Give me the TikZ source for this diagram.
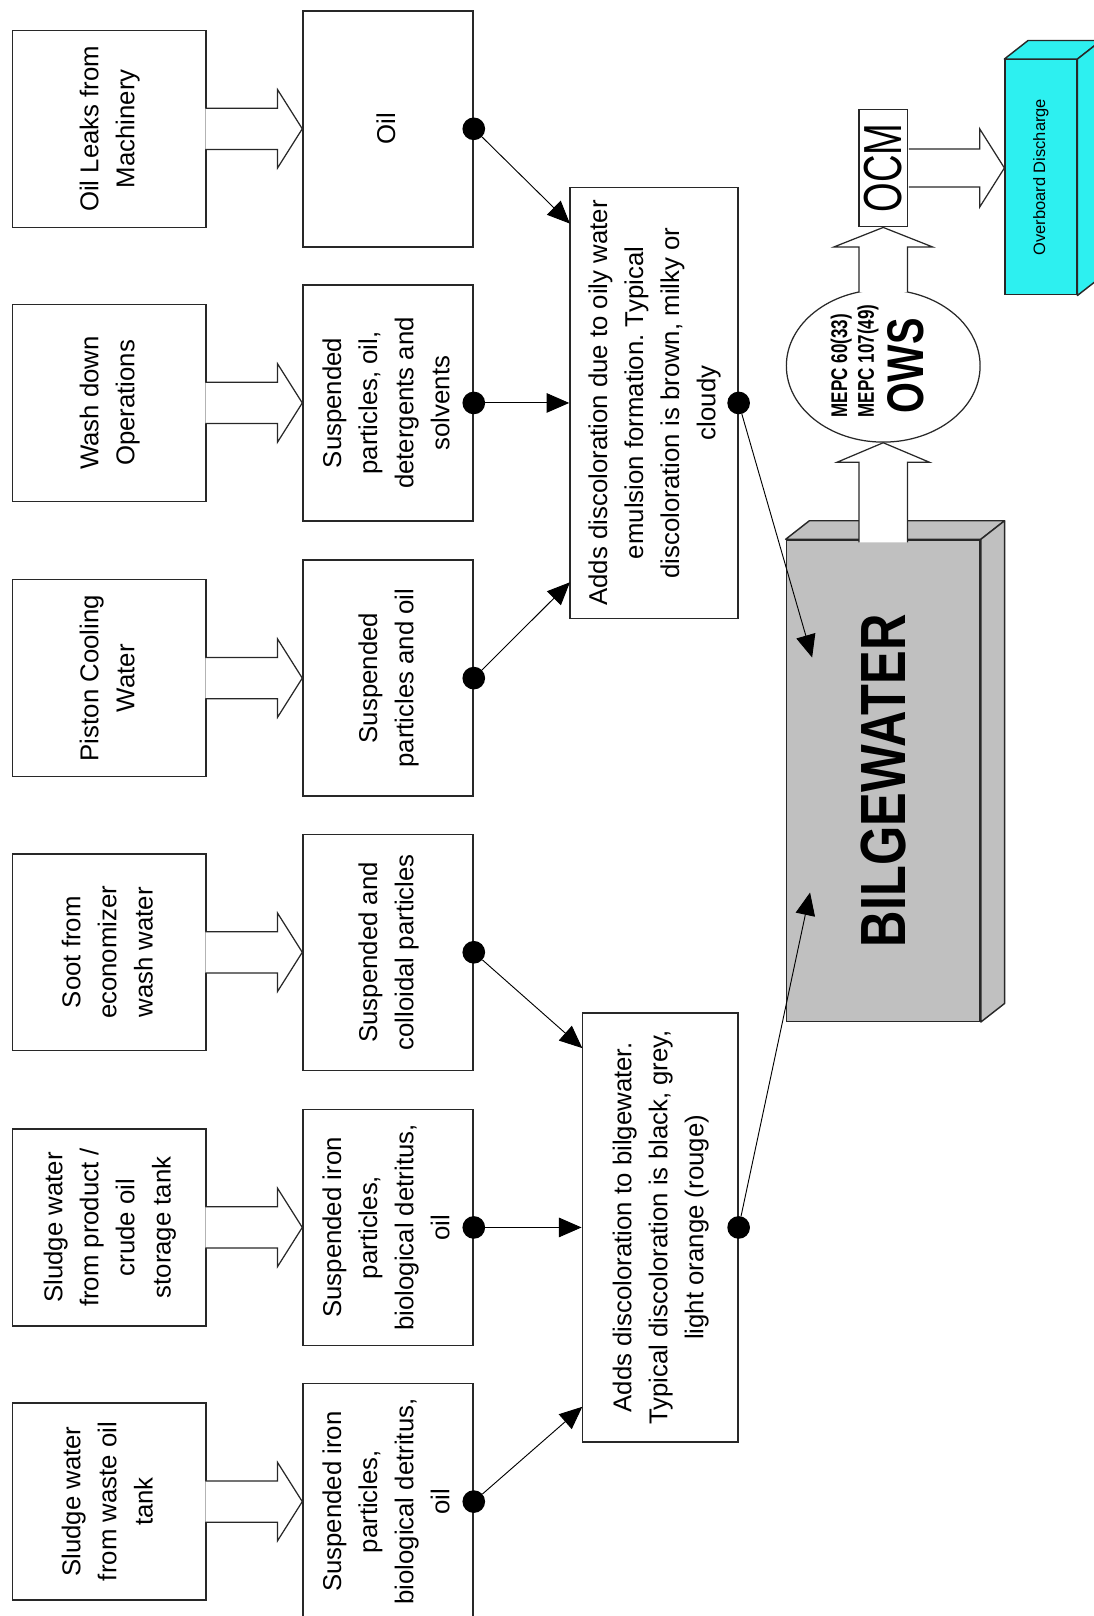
\documentclass[tikz,border=0pt]{standalone}
\usepackage{fontspec}
\setmainfont{Liberation Sans}
\usepackage{graphicx}
\usetikzlibrary{arrows.meta,shapes.geometric,calc}
\frenchspacing

\newcommand{\vlabel}[1]{\rotatebox{90}{\begin{tabular}{@{}c@{}}#1\end{tabular}}}

\begin{document}
\begin{tikzpicture}[x=1pt,y=1pt,
  srcBox/.style={draw=lineColor,fill=white,line width=1.4pt,inner sep=0pt,minimum width=188pt,minimum height=191pt,font=\fontsize{25}{35}\selectfont},
  partBox/.style={draw=lineColor,fill=white,line width=1.4pt,inner sep=0pt,minimum width=165pt,minimum height=229pt,font=\fontsize{25}{35}\selectfont},
  midBox/.style={draw=lineColor,fill=white,line width=1.4pt,inner sep=0pt,font=\fontsize{25}{35}\selectfont},
  dot/.style={circle,fill=black,inner sep=0pt,minimum size=22pt},
  link/.style={draw=black,line width=0.9pt,line join=round,-{Triangle[length=22pt,width=19pt]}},
  blockArrow/.style={draw=lineColor,fill=white,line width=1.2pt,line join=miter},
  faceStyle/.style={draw=lineColor,line width=1.4pt,line join=round},
  owsText/.style={inner sep=0pt,font=\fontsize{22}{26}\selectfont\bfseries}]
\definecolor{lineColor}{RGB}{40,40,40}
\definecolor{bilgeColor}{RGB}{192,192,192}
\definecolor{overboardColor}{RGB}{45,240,240}
\path[use as bounding box,fill=white] (0,0) rectangle (1061,1568);

\node[srcBox] (src1) at (106,1443) {\vlabel{Oil Leaks from\\Machinery}};
\node[srcBox] (src2) at (106,1177) {\vlabel{Wash down\\Operations}};
\node[srcBox] (src3) at (106,910) {\vlabel{Piston Cooling\\Water}};
\node[srcBox] (src4) at (106,644) {\vlabel{Soot from\\economizer\\wash water}};
\node[srcBox] (src5) at (106,377) {\vlabel{Sludge water\\from product /\\crude oil\\storage tank}};
\node[srcBox] (src6) at (106,111) {\vlabel{Sludge water\\from waste oil\\tank}};

\node[partBox] (part1) at (376.5,1443) {\vlabel{Oil}};
\node[partBox] (part2) at (376.5,1177) {\vlabel{Suspended\\particles, oil,\\detergents and\\solvents}};
\node[partBox] (part3) at (376.5,910) {\vlabel{Suspended\\particles and oil}};
\node[partBox] (part4) at (376.5,644) {\vlabel{Suspended and\\colloidal particles}};
\node[partBox] (part5) at (376.5,377) {\vlabel{Suspended iron\\particles,\\biological detritus,\\oil}};
\node[partBox] (part6) at (376.5,111) {\vlabel{Suspended iron\\particles,\\biological detritus,\\oil}};

\path[blockArrow] ($(src1.east)+(-1.5,20)$) -- ($(part1.west)+(-24,20)$) -- ($(part1.west)+(-24,38)$) -- (part1.west) -- ($(part1.west)+(-24,-38)$) -- ($(part1.west)+(-24,-20)$) -- ($(src1.east)+(-1.5,-20)$);
\path[blockArrow] ($(src2.east)+(-1.5,20)$) -- ($(part2.west)+(-24,20)$) -- ($(part2.west)+(-24,38)$) -- (part2.west) -- ($(part2.west)+(-24,-38)$) -- ($(part2.west)+(-24,-20)$) -- ($(src2.east)+(-1.5,-20)$);
\path[blockArrow] ($(src3.east)+(-1.5,20)$) -- ($(part3.west)+(-24,20)$) -- ($(part3.west)+(-24,38)$) -- (part3.west) -- ($(part3.west)+(-24,-38)$) -- ($(part3.west)+(-24,-20)$) -- ($(src3.east)+(-1.5,-20)$);
\path[blockArrow] ($(src4.east)+(-1.5,20)$) -- ($(part4.west)+(-24,20)$) -- ($(part4.west)+(-24,38)$) -- (part4.west) -- ($(part4.west)+(-24,-38)$) -- ($(part4.west)+(-24,-20)$) -- ($(src4.east)+(-1.5,-20)$);
\path[blockArrow] ($(src5.east)+(-1.5,20)$) -- ($(part5.west)+(-24,20)$) -- ($(part5.west)+(-24,38)$) -- (part5.west) -- ($(part5.west)+(-24,-38)$) -- ($(part5.west)+(-24,-20)$) -- ($(src5.east)+(-1.5,-20)$);
\path[blockArrow] ($(src6.east)+(-1.5,20)$) -- ($(part6.west)+(-24,20)$) -- ($(part6.west)+(-24,38)$) -- (part6.west) -- ($(part6.west)+(-24,-38)$) -- ($(part6.west)+(-24,-20)$) -- ($(src6.east)+(-1.5,-20)$);

\node[midBox,minimum width=163pt,minimum height=418pt] (mix1) at (634.5,1177) {\vlabel{Adds discoloration due to oily water\\emulsion formation. Typical\\discoloration is brown, milky or\\cloudy}};
\node[midBox,minimum width=151pt,minimum height=416pt] (mix2) at (640.5,377) {\vlabel{Adds discoloration to bilgewater.\\Typical discoloration is black, grey,\\light orange (rouge)}};

\node[dot] (dot1) at (part1.east) {};
\node[dot] (dot2) at (part2.east) {};
\node[dot] (dot3) at (part3.east) {};
\node[dot] (dot4) at (part4.east) {};
\node[dot] (dot5) at (part5.east) {};
\node[dot] (dot6) at (part6.east) {};
\node[dot] (dot7) at (mix1.east) {};
\node[dot] (dot8) at (mix2.east) {};

\node[draw=lineColor,fill=bilgeColor,line width=1.4pt,inner sep=0pt,minimum width=188pt,minimum height=467pt] (bilge) at (857,810.5) {\rotatebox{90}{\scalebox{0.79}[1]{\fontsize{62}{70}\selectfont\bfseries BILGEWATER}}};
\path[faceStyle,fill=bilgeColor] (bilge.north west) -- ++(23,18) -- ($(bilge.north east)+(23,18)$) -- (bilge.north east) -- cycle;
\path[faceStyle,fill=bilgeColor] (bilge.north east) -- ++(23,18) -- ($(bilge.south east)+(23,18)$) -- (bilge.south east) -- cycle;

\node[draw=lineColor,line width=1.2pt,ellipse,inner sep=0pt,minimum width=188pt,minimum height=148pt] (ows) at (857,1213) {};
\node[draw=lineColor,fill=white,line width=1.4pt,inner sep=0pt,minimum width=47pt,minimum height=114pt] (ocm) at (857,1405) {\rotatebox{90}{\scalebox{0.71}[1]{\fontsize{52}{60}\selectfont OCM}}};

\node[draw=lineColor,fill=overboardColor,line width=1.4pt,inner sep=0pt,minimum width=69.5pt,minimum height=228pt] (overboard) at (1010,1396) {\rotatebox{90}{\fontsize{16}{19}\selectfont Overboard Discharge}};
\path[faceStyle,fill=overboardColor] (overboard.north west) -- ++(23,18) -- ($(overboard.north east)+(23,18)$) -- (overboard.north east) -- cycle;
\path[faceStyle,fill=overboardColor] (overboard.north east) -- ++(23,18) -- ($(overboard.south east)+(23,18)$) -- (overboard.south east) -- cycle;

\path[blockArrow] ($(bilge.north)+(-23.5,-3)$) -- ($(ows.south)+(-23.5,-19)$) -- ($(ows.south)+(-45,-19)$) -- (ows.south) -- ($(ows.south)+(45,-19)$) -- ($(ows.south)+(23.5,-19)$) -- ($(bilge.north)+(23.5,-3)$);
\path[blockArrow] ($(ows.north)+(-23.5,-3)$) -- ($(ocm.south)+(-23.5,-19)$) -- ($(ocm.south)+(-48,-19)$) -- (ocm.south) -- ($(ocm.south)+(48,-19)$) -- ($(ocm.south)+(23.5,-19)$) -- ($(ows.north)+(23.5,-3)$);
\coordinate (obTip) at (overboard.west |- ocm.east);
\path[blockArrow] ($(ocm.east)+(0.7,18.5)$) -- ($(obTip)+(-24,18.5)$) -- ($(obTip)+(-24,38)$) -- (obTip) -- ($(obTip)+(-24,-38)$) -- ($(obTip)+(-24,-18.5)$) -- ($(ocm.east)+(0.7,-18.5)$);

\node[owsText,anchor=base west,rotate=90] (mepcA) at (822,1163) {\scalebox{0.75}[1]{MEPC 60(33)}};
\node[owsText,anchor=base west,rotate=90] (mepcB) at (848,1163) {\scalebox{0.75}[1]{MEPC 107(49)}};
\node[owsText,anchor=base,rotate=90,font=\fontsize{50}{56}\selectfont\bfseries] (owsLabel) at (896,1213) {\scalebox{0.77}[1]{OWS}};

\coordinate (mix1a) at (553,1351);
\coordinate (mix1c) at (553,1003);
\coordinate (mix2a) at (565,551);
\coordinate (mix2c) at (565,203);
\coordinate (bilgeA) at (788,930);
\coordinate (bilgeB) at (786,702);

\draw[link] (dot1) -- (mix1a);
\draw[link] (dot2) -- (mix1.west);
\draw[link] (dot3) -- (mix1c);
\draw[link] (dot4) -- (mix2a);
\draw[link] (dot5) -- (mix2.west);
\draw[link] (dot6) -- (mix2c);
\draw[link] (dot7) -- (bilgeA);
\draw[link] (dot8) -- (bilgeB);
\end{tikzpicture}
\end{document}
